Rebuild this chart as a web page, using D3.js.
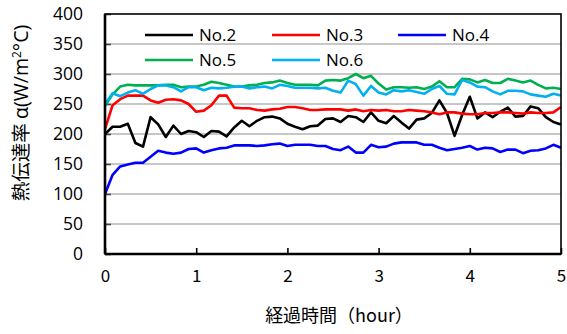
<!DOCTYPE html>
<html>
<head>
<meta charset="utf-8">
<script src="https://cdn.jsdelivr.net/npm/d3@7"></script>
<style>
  html, body { margin: 0; padding: 0; background: #fff; }
  svg { display: block; }
  .latin { font-family: "Open Sans", "Noto Sans CJK JP", sans-serif; }
  .cjk { font-family: "Noto Sans CJK JP", sans-serif; }
</style>
</head>
<body>
<svg id="chart" width="567" height="334"></svg>
<script>
// Heat transfer coefficient readings, one every 5 minutes over 5 hours (61 samples)
const sampleStepHours = 5 / 60;
const seriesNames = ["No.2", "No.3", "No.4", "No.5", "No.6"];
const seriesColors = ["#000000", "#ff0000", "#0000ff", "#00b050", "#00b0f0"];

const no2 = [200, 212, 212, 217, 185, 179, 228, 216, 195, 214, 200, 205, 203, 195, 205, 204, 196, 211, 222, 213,
             222, 228, 229, 226, 217, 212, 208, 213, 214, 225, 226, 220, 230, 228, 220, 236, 222, 218, 230, 219,
             209, 224, 226, 235, 256, 235, 197, 232, 262, 226, 236, 228, 237, 244, 229, 230, 246, 243, 228, 220, 216];
const no3 = [208, 248, 258, 264, 264, 264, 256, 252, 257, 258, 256, 250, 237, 239, 248, 264, 264, 244, 243, 243,
             240, 239, 241, 242, 245, 245, 243, 240, 240, 241, 241, 241, 239, 241, 238, 240, 239, 240, 238, 238,
             240, 239, 238, 236, 233, 236, 236, 234, 233, 233, 235, 235, 236, 236, 235, 234, 236, 235, 235, 236, 245];
const no4 = [100, 132, 146, 149, 152, 152, 162, 172, 169, 167, 169, 175, 176, 169, 173, 176, 177, 181, 181, 181,
             180, 181, 183, 184, 180, 182, 182, 182, 180, 180, 175, 173, 179, 169, 169, 182, 178, 179, 184, 186,
             186, 186, 182, 182, 177, 173, 175, 177, 180, 174, 177, 176, 170, 174, 174, 168, 172, 173, 176, 182, 177];
const no5 = [247, 266, 279, 282, 281, 281, 281, 281, 282, 282, 278, 279, 279, 282, 287, 285, 282, 279, 279, 281,
             282, 285, 286, 289, 285, 282, 282, 282, 281, 289, 290, 289, 293, 300, 293, 297, 284, 274, 278, 278,
             277, 278, 275, 279, 288, 278, 278, 292, 291, 286, 290, 285, 285, 292, 289, 286, 289, 282, 276, 277, 275];
const no6 = [250, 268, 263, 269, 273, 267, 275, 281, 281, 278, 271, 278, 278, 273, 277, 276, 277, 279, 279, 276,
             278, 279, 276, 282, 280, 277, 277, 277, 276, 277, 272, 269, 289, 283, 264, 280, 269, 266, 273, 271,
             273, 270, 267, 275, 280, 267, 266, 290, 286, 279, 278, 271, 266, 272, 272, 271, 266, 264, 262, 267, 264];

const xTicks = [0, 1, 2, 3, 4, 5];
const yTicks = [0, 50, 100, 150, 200, 250, 300, 350, 400];
const xTitle = "経過時間（hour）";

const seriesValues = [no2, no3, no4, no5, no6];

const svg = d3.select("#chart");
const plot = { left: 105, right: 561, top: 14, bottom: 254 };

const x = d3.scaleLinear().domain([0, 5]).range([plot.left, plot.right]);
const y = d3.scaleLinear().domain([0, 400]).range([plot.bottom, plot.top]);

// Horizontal gridlines
svg.append("g")
  .selectAll("line")
  .data(yTicks.filter(v => v > 0 && v < 400))
  .join("line")
  .attr("x1", plot.left).attr("x2", plot.right)
  .attr("y1", d => y(d)).attr("y2", d => y(d))
  .attr("stroke", "#b4b4b4")
  .attr("stroke-width", 1.6);

// Y axis: inward ticks, labels on the left
const yAxis = svg.append("g")
  .attr("transform", `translate(${plot.left},0)`)
  .call(d3.axisLeft(y).tickValues(yTicks).tickSizeInner(-6).tickSizeOuter(0).tickPadding(22));
yAxis.select(".domain").remove();
yAxis.selectAll(".tick line").attr("stroke", "#444").attr("stroke-width", 1.6);
yAxis.selectAll(".tick text")
  .attr("class", "latin")
  .attr("font-size", 17.5)
  .attr("fill", "#000");

// X axis: inward ticks, integer hour labels below
const xAxis = svg.append("g")
  .attr("transform", `translate(0,${plot.bottom})`)
  .call(d3.axisBottom(x).tickValues(xTicks).tickFormat(d3.format("d"))
    .tickSizeInner(-6).tickSizeOuter(0).tickPadding(16));
xAxis.select(".domain").remove();
xAxis.selectAll(".tick line").attr("stroke", "#000").attr("stroke-width", 1.6);
xAxis.selectAll(".tick text")
  .attr("class", "cjk")
  .attr("font-size", 17)
  .attr("fill", "#000");

// Series lines
const line = d3.line()
  .x((d, i) => x(i * sampleStepHours))
  .y(d => y(d));

svg.append("g")
  .selectAll("path")
  .data(seriesValues)
  .join("path")
  .attr("d", d => line(d))
  .attr("fill", "none")
  .attr("stroke", (d, i) => seriesColors[i])
  .attr("stroke-width", 2.6)
  .attr("stroke-linejoin", "round");

// Plot frame
svg.append("rect")
  .attr("x", plot.left).attr("y", plot.top)
  .attr("width", plot.right - plot.left).attr("height", plot.bottom - plot.top)
  .attr("fill", "none").attr("stroke", "#000").attr("stroke-width", 1.6);
svg.append("line")
  .attr("x1", plot.left).attr("x2", plot.left)
  .attr("y1", plot.top).attr("y2", plot.bottom)
  .attr("stroke", "#000").attr("stroke-width", 2.6);
svg.append("line")
  .attr("x1", plot.left).attr("x2", plot.right)
  .attr("y1", plot.bottom).attr("y2", plot.bottom)
  .attr("stroke", "#000").attr("stroke-width", 2.6);

// Legend: two rows of three entries, drawn over the gridlines
const legendCols = [145, 272, 398];
const legendRows = [35, 60];
const legend = svg.append("g")
  .selectAll("g")
  .data(seriesNames)
  .join("g")
  .attr("transform", (d, i) => `translate(${legendCols[i % 3]},${legendRows[Math.floor(i / 3)]})`);
legend.append("line")
  .attr("x1", 0).attr("x2", 48)
  .attr("stroke", (d, i) => seriesColors[i])
  .attr("stroke-width", 2.6);
legend.append("text")
  .attr("class", "latin")
  .attr("x", 54).attr("dy", "0.36em")
  .attr("font-size", 17)
  .text(d => d);

// Axis titles
svg.append("text")
  .attr("class", "cjk")
  .attr("x", 339).attr("y", 322)
  .attr("text-anchor", "middle")
  .attr("font-size", 18)
  .text(xTitle);

const yTitle = svg.append("text")
  .attr("transform", "translate(28,113) rotate(-90)")
  .attr("text-anchor", "middle")
  .attr("font-size", 19.5);
yTitle.append("tspan").attr("class", "cjk").text("熱伝達率 ");
yTitle.append("tspan").attr("class", "latin").text("α(W/m");
yTitle.append("tspan").attr("class", "latin").attr("font-size", 12).attr("dy", -7).text("2");
yTitle.append("tspan").attr("class", "latin").attr("dy", 7).text("°C)");
</script>
</body>
</html>
